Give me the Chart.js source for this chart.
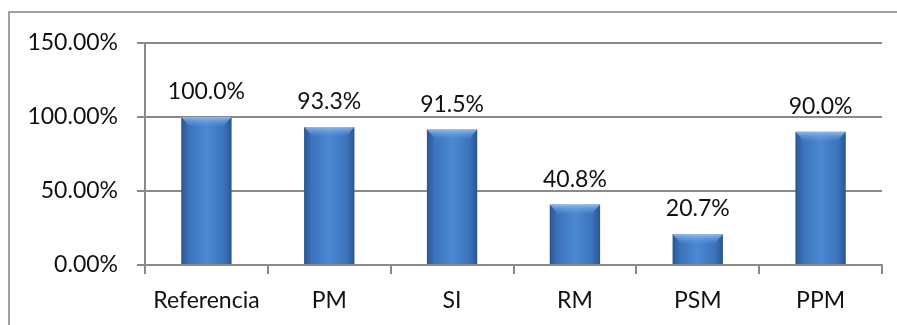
<!DOCTYPE html>
<html>
<head>
<meta charset="utf-8">
<script src="https://cdn.jsdelivr.net/npm/chart.js@4"></script>
<style>
  html, body { margin: 0; padding: 0; background: #fff; }
  #wrap { position: relative; width: 897px; height: 325px; }
</style>
</head>
<body>
<div id="wrap"><canvas id="chart" width="897" height="325"></canvas></div>
<script>
// Chart data
const categories = ['Referencia', 'PM', 'SI', 'RM', 'PSM', 'PPM'];
const values = [100.0, 93.3, 91.5, 40.8, 20.7, 90.0];
const yTicks = [0, 50, 100, 150];

const FONT = 'Lato, "Open Sans", sans-serif';

// Bar fill: dark edges, lighter middle
function barFill(c) {
    const chart = c.chart;
    if (!chart.chartArea) return '#3f77c0';
    const xs = chart.scales.x;
    const cx = xs.getPixelForValue(c.dataIndex);
    const w = xs.width / categories.length * 0.41;
    const g = chart.ctx.createLinearGradient(cx - w / 2, 0, cx + w / 2, 0);
    g.addColorStop(0, '#2a5690');
    g.addColorStop(0.15, '#3b72bb');
    g.addColorStop(0.5, '#4c89d3');
    g.addColorStop(0.85, '#3b72bb');
    g.addColorStop(1, '#2a5690');
    return g;
}

// Outer frame (only left and top edges are inside the picture)
const framePlugin = {
    id: 'frame',
    beforeDraw(chart) {
        const ctx = chart.ctx;
        ctx.save();
        ctx.strokeStyle = '#a0a0a0';
        ctx.lineWidth = 2;
        ctx.beginPath();
        ctx.moveTo(9, 330);
        ctx.lineTo(9, 12);
        ctx.lineTo(900, 12);
        ctx.stroke();
        ctx.restore();
    }
};

// Light bevel on top of each bar + value labels
const labelPlugin = {
    id: 'valueLabels',
    afterDatasetsDraw(chart) {
        const ctx = chart.ctx;
        const meta = chart.getDatasetMeta(0);
        ctx.save();
        meta.data.forEach((bar, i) => {
            const half = bar.width / 2;
            const top = bar.y;
            const g = ctx.createLinearGradient(0, top, 0, top + 9);
            g.addColorStop(0, 'rgba(150,195,240,0.9)');
            g.addColorStop(1, 'rgba(90,145,215,0.2)');
            ctx.fillStyle = g;
            ctx.beginPath();
            ctx.moveTo(bar.x - half, top);
            ctx.lineTo(bar.x + half, top);
            ctx.lineTo(bar.x + half - 8, top + 9);
            ctx.lineTo(bar.x - half + 8, top + 9);
            ctx.closePath();
            ctx.fill();

            ctx.fillStyle = '#111';
            ctx.font = '23px ' + FONT;
            ctx.textAlign = 'center';
            ctx.textBaseline = 'alphabetic';
            ctx.fillText(values[i].toFixed(1) + '%', bar.x, top - 18);
        });
        ctx.restore();
    }
};

new Chart(document.getElementById('chart'), {
    type: 'bar',
    data: {
        labels: categories,
        datasets: [{
            data: values,
            backgroundColor: barFill,
            borderWidth: 0,
            categoryPercentage: 1.0,
            barPercentage: 0.41
        }]
    },
    options: {
        responsive: false,
        animation: false,
        layout: { padding: { top: 43, right: 15, left: 0, bottom: 0 } },
        plugins: {
            legend: { display: false },
            tooltip: { enabled: false }
        },
        scales: {
            x: {
                offset: true,
                grid: {
                    offset: true,
                    drawOnChartArea: false,
                    drawTicks: true,
                    tickLength: 9,
                    color: '#8a8a8a',
                    lineWidth: 2
                },
                border: { color: '#8a8a8a', width: 2 },
                ticks: {
                    color: '#111',
                    font: { size: 23, family: FONT },
                    padding: 13
                },
                afterFit(scale) { scale.height = 60; }
            },
            y: {
                min: 0,
                max: 150,
                afterBuildTicks(scale) {
                    scale.ticks = yTicks.map(v => ({ value: v }));
                },
                grid: {
                    color: '#8a8a8a',
                    lineWidth: 2,
                    drawTicks: true,
                    tickLength: 8
                },
                border: { color: '#8a8a8a', width: 2 },
                ticks: {
                    color: '#111',
                    font: { size: 23, family: FONT },
                    padding: 19,
                    callback: v => v.toFixed(2) + '%'
                },
                afterFit(scale) { scale.width = 145; }
            }
        }
    },
    plugins: [framePlugin, labelPlugin]
});
</script>
</body>
</html>
